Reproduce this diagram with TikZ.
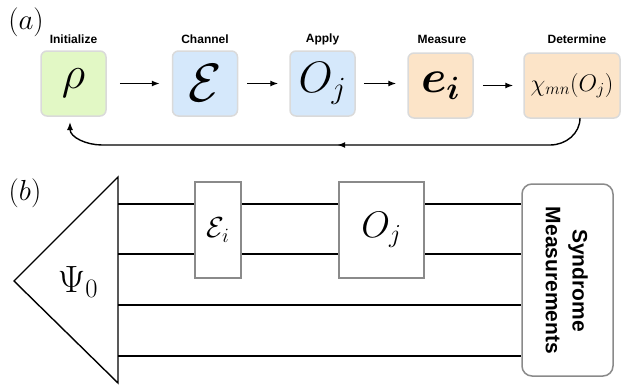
\RequirePackage{fix-cm}
\documentclass[tikz,border=0pt]{standalone}
\usepackage{fontspec}
\usepackage{amsmath,amssymb,bm}
\newfontfamily\helv{Liberation Sans}
\usetikzlibrary{arrows.meta,decorations.markings}
\definecolor{gfill}{HTML}{E2F8C5}
\definecolor{bfill}{HTML}{D5E8FB}
\definecolor{ofill}{HTML}{FCE4C8}
\definecolor{bordr}{HTML}{DADADA}
\definecolor{gatec}{HTML}{8A8A8A}
\begin{document}
\begin{tikzpicture}[x=1pt,y=-1pt,
  stepbox/.style={draw=bordr,line width=1.5pt,rounded corners=6pt,minimum width=65pt,minimum height=65pt,inner sep=0pt},
  steplabel/.style={font=\helv\bfseries\fontsize{12}{14}\selectfont,inner sep=0pt},
  flow/.style={line width=1.4pt,-{Latex[length=8pt,width=6pt]}},
  wire/.style={line width=1.4pt},
  gatebox/.style={draw=gatec,fill=white,line width=1.3pt,inner sep=0pt},
  panel/.style={font=\fontsize{29}{32}\selectfont,inner sep=0pt},
  syndtext/.style={rotate=-90,font=\helv\bfseries\fontsize{21}{25}\selectfont,inner sep=0pt}
]
\useasboundingbox (0,0) rectangle (621,391);
% panel (a)
\node[panel] (pa) at (26,22) {$(a)$};
\node[stepbox,fill=gfill] (rho) at (73.5,83.5) {\fontsize{46}{50}\selectfont$\rho$};
\node[stepbox,fill=bfill] (E) at (205,83.5) {\fontsize{54}{58}\selectfont$\mathcal{E}$};
\node[stepbox,fill=bfill] (O) at (322.5,83.5) {\fontsize{44}{48}\selectfont$O_j$};
\node[stepbox,fill=ofill] (e) at (440.5,85.5) {\fontsize{46}{50}\selectfont$\bm{e_i}$};
\node[stepbox,fill=ofill,minimum width=96pt] (chi) at (572,85.5) {\fontsize{24}{28}\selectfont$\chi_{mn}(O_j)$};
\node[steplabel] (l1) at (73.5,39) {Initialize};
\node[steplabel] (l2) at (205,39) {Channel};
\node[steplabel] (l3) at (322.5,39) {Apply};
\node[steplabel] (l4) at (442,39) {Measure};
\node[steplabel] (l5) at (577,39) {Determine};
\draw[flow,shorten <=13pt,shorten >=12pt] (rho.east) -- (E.west);
\draw[flow,shorten <=9pt,shorten >=11pt] (E.east) -- (O.west);
\draw[flow,shorten <=8pt,shorten >=11pt] (O.east) -- (e.west|-O.east);
\draw[flow,shorten <=9pt,shorten >=10pt] (e.east) -- (chi.west);
\coordinate (fbs) at (580,118);
\coordinate (fbe) at (70,122);
\draw[line width=1.4pt,-{Latex[length=8pt,width=6pt]},
  postaction={decorate,decoration={markings,mark=at position 0.48 with {\arrow{Latex[length=8pt,width=6pt]}}}}]
  (fbs) to[out=-90,in=0] (550,145) -- (102,145) to[out=180,in=-90] (fbe);
% panel (b)
\node[panel] (pb) at (25,193) {$(b)$};
\coordinate (t1) at (14,281);
\coordinate (t2) at (118,177);
\coordinate (t3) at (118,383);
\node[draw=gatec,line width=1.5pt,rounded corners=10pt,minimum width=91pt,minimum height=192pt,inner sep=0pt] (synd) at (567.5,280) {};
\node[syndtext] (synd1) at (578,280.5) {Syndrome};
\node[syndtext] (synd2) at (553,280.5) {Measurements};
\foreach \i/\yy in {1/204,2/254,3/305,4/356}{
  \coordinate (wl\i) at (118,\yy);
  \draw[wire] (wl\i) -- (wl\i -| synd.west);
}
\draw[line width=1.4pt,line join=miter] (t2) -- (t1) -- (t3) -- cycle;
\node[inner sep=0pt] (psi) at (78,282) {\fontsize{38}{42}\selectfont$\Psi_0$};
\node[gatebox,minimum width=46pt,minimum height=96pt] (Ei) at (218,230) {\fontsize{29}{32}\selectfont$\mathcal{E}_i$};
\node[gatebox,minimum width=85pt,minimum height=96pt] (Oj) at (381.5,230) {\fontsize{37}{40}\selectfont$O_j$};
\end{tikzpicture}
\end{document}
